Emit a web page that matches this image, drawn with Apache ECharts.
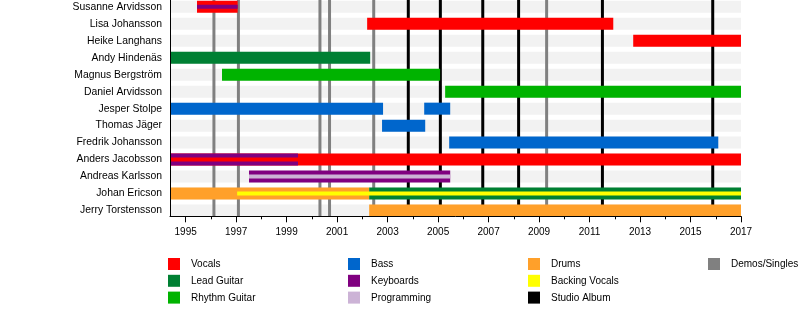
<!DOCTYPE html>
<html>
<head>
<meta charset="utf-8">
<script src="https://cdn.jsdelivr.net/npm/echarts@6/dist/echarts.min.js"></script>
<style>html,body{margin:0;padding:0;background:#fff}#c{width:800px;height:336px}</style>
</head>
<body>
<div id="c"></div>
<script>
const members = ['Susanne Arvidsson','Lisa Johansson','Heike Langhans','Andy Hindenäs','Magnus Bergström','Daniel Arvidsson','Jesper Stolpe','Thomas Jäger','Fredrik Johansson','Anders Jacobsson','Andreas Karlsson','Johan Ericson','Jerry Torstensson'];

const mainBars = [
  ['Susanne Arvidsson','Vocals',1995.45,1997.06],
  ['Lisa Johansson','Vocals',2002.19,2011.94],
  ['Heike Langhans','Vocals',2012.73,2017],
  ['Andy Hindenäs','Lead Guitar',1994.38,2002.31],
  ['Magnus Bergström','Rhythm Guitar',1996.44,2005.08],
  ['Daniel Arvidsson','Rhythm Guitar',2005.28,2017],
  ['Jesper Stolpe','Bass',1994.38,2002.82],
  ['Jesper Stolpe','Bass',2004.45,2005.48],
  ['Thomas Jäger','Bass',2002.78,2004.49],
  ['Fredrik Johansson','Bass',2005.44,2016.1],
  ['Anders Jacobsson','Vocals',1994.38,2017],
  ['Anders Jacobsson','Keyboards',1994.38,1999.45],
  ['Andreas Karlsson','Keyboards',1997.51,2005.48],
  ['Johan Ericson','Drums',1994.38,2002.27],
  ['Johan Ericson','Lead Guitar',2002.27,2017],
  ['Jerry Torstensson','Drums',2002.27,2017]
];
const thinBars = [
  ['Susanne Arvidsson','Keyboards',1995.45,1997.06],
  ['Anders Jacobsson','Vocals',1994.38,1999.45],
  ['Andreas Karlsson','Programming',1997.51,2005.48],
  ['Johan Ericson','Backing Vocals',1997.04,2017]
];
const studioAlbums = [2003.82, 2005.09, 2006.77, 2008.19, 2011.51, 2015.88];
const demosSingles = [1996.12, 1997.09, 2000.32, 2000.70, 2002.45, 2009.30];
const tickYears = [1995,1997,1999,2001,2003,2005,2007,2009,2011,2013,2015,2017];
const minorTickYears = [1996,1998,2000,2002,2004,2006,2008,2010,2012,2014,2016];
const legendColumns = [
  ['Vocals','Lead Guitar','Rhythm Guitar'],
  ['Bass','Keyboards','Programming'],
  ['Drums','Backing Vocals','Studio Album'],
  ['Demos/Singles']
];
const xStart = 1994.38, xEnd = 2017;
const rowIndices = members.map((m, i) => i);

const colors = {
  'Vocals':'#ff0000','Lead Guitar':'#008033','Rhythm Guitar':'#00b300',
  'Bass':'#0066cc','Keyboards':'#800080','Programming':'#ccb3d6',
  'Drums':'#ffa02a','Backing Vocals':'#ffff00','Studio Album':'#000000',
  'Demos/Singles':'#808080'
};
const FONT = '"Liberation Sans", Arial, Helvetica, sans-serif';

function barSeries(list, h, z) {
  return {
    type: 'custom', z: z, silent: true,
    encode: {x: [0, 1], y: 2},
    data: list.map(b => [b[2], b[3], members.indexOf(b[0])]),
    renderItem: (params, api) => {
      const p1 = api.coord([api.value(0), api.value(2)]);
      const p2 = api.coord([api.value(1), api.value(2)]);
      return {type: 'rect', shape: {x: p1[0], y: p1[1] - h / 2, width: p2[0] - p1[0], height: h},
        style: {fill: colors[list[params.dataIndex][1]]}};
    }
  };
}
function lineSeries(years, color, z) {
  return {
    type: 'custom', z: z, silent: true,
    encode: {x: 0, y: 1},
    data: years.map(y => [y, 0]),
    renderItem: (params, api) => {
      const p = api.coord([api.value(0), 0]);
      const cs = params.coordSys;
      return {type: 'line', shape: {x1: p[0], y1: cs.y, x2: p[0], y2: cs.y + cs.height},
        style: {stroke: color, lineWidth: 3}};
    }
  };
}

const legendGraphics = [];
legendColumns.forEach((col, ci) => {
  col.forEach((name, ri) => {
    const x = 168 + ci * 180, y = 258 + ri * 16.8;
    legendGraphics.push({type: 'rect', shape: {x: x, y: y, width: 12, height: 12}, style: {fill: colors[name]}});
    legendGraphics.push({type: 'text', x: x + 23, y: y + 6.5,
      style: {text: name, fill: '#000', font: '10px ' + FONT, verticalAlign: 'middle'}});
  });
});

const chart = echarts.init(document.getElementById('c'), null, {renderer: 'canvas'});
chart.setOption({
  animation: false,
  backgroundColor: '#fff',
  grid: {left: 170, right: 59, top: 0, height: 216.3, outerBoundsMode: 'none', containLabel: false},
  xAxis: [{
    type: 'value', min: xStart, max: xEnd, z: 10, position: 'bottom',
    axisLine: {show: true, onZero: false, lineStyle: {color: '#000', width: 1}},
    axisTick: {show: true, customValues: tickYears, length: 6, lineStyle: {color: '#000'}},
    axisLabel: {customValues: tickYears, formatter: v => String(v), color: '#000', fontSize: 10, fontFamily: FONT, margin: 11},
    splitLine: {show: false}
  }, {
    type: 'value', min: xStart, max: xEnd, position: 'bottom', z: 10,
    axisLine: {show: false, onZero: false},
    axisTick: {show: true, customValues: minorTickYears, length: 3, lineStyle: {color: '#000'}},
    axisLabel: {show: false},
    splitLine: {show: false}
  }],
  yAxis: {
    type: 'value', min: -0.4, max: 12.34, inverse: true, z: 10, position: 'left',
    axisLine: {show: true, onZero: false, lineStyle: {color: '#000', width: 1}},
    axisTick: {show: false},
    axisLabel: {customValues: rowIndices, formatter: v => members[Math.round(v)] || '', color: '#000', fontSize: 10.4, fontFamily: FONT, margin: 8},
    splitLine: {show: false}
  },
  series: [
    {
      type: 'custom', z: 1, silent: true,
      encode: {x: 0, y: 1},
      data: rowIndices.map(i => [xStart, i]),
      renderItem: (params, api) => {
        const p1 = api.coord([xStart, api.value(1)]);
        const p2 = api.coord([xEnd, api.value(1)]);
        return {type: 'rect', shape: {x: p1[0], y: p1[1] - 6, width: p2[0] - p1[0], height: 12}, style: {fill: '#f2f2f2'}};
      }
    },
    lineSeries(demosSingles, colors['Demos/Singles'], 2),
    lineSeries(studioAlbums, colors['Studio Album'], 2),
    barSeries(mainBars, 12, 3),
    barSeries(thinBars, 4, 4)
  ],
  graphic: legendGraphics
});
</script>
</body>
</html>
